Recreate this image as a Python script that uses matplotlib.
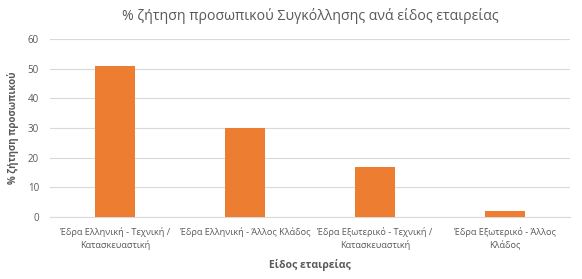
import numpy as np
import matplotlib.pyplot as plt

plt.rcParams['font.family'] = ['Open Sans', 'Noto Sans', 'DejaVu Sans']

# δεδομένα
categories = ["Έδρα Ελληνική - Τεχνική /\nΚατασκευαστική",
              "Έδρα Ελληνική - Άλλος Κλάδος",
              "Έδρα Εξωτερικό - Τεχνική /\nΚατασκευαστική",
              "Έδρα Εξωτερικό - Άλλος\nΚλάδος"]
values = [51, 30, 17, 2]
yticks = [0, 10, 20, 30, 40, 50, 60]

text_col = "#595959"

fig = plt.figure(figsize=(5.82, 2.79), dpi=100)
ax = fig.add_axes([0.086, 0.222, 0.893, 0.638])

x = np.arange(len(categories))
ax.bar(x, values, width=0.31, color="#ED7D31", zorder=3)

ax.set_xlim(-0.5, len(categories) - 0.5)
ax.set_ylim(0, 60)
ax.set_yticks(yticks)
ax.set_xticks(x)
ax.set_xticklabels(categories, fontsize=6.6, color=text_col, linespacing=1.5)
ax.tick_params(axis="y", labelsize=7, colors=text_col, length=0, pad=8)
ax.tick_params(axis="x", length=0, pad=7)

ax.grid(axis="y", color="#D9D9D9", linewidth=0.8, zorder=0)
for s in ["top", "right", "left"]:
    ax.spines[s].set_visible(False)
ax.spines["bottom"].set_color("#D9D9D9")

ax.set_title("% ζήτηση προσωπικού Συγκόλλησης ανά είδος εταιρείας",
             fontsize=10.2, color=text_col, pad=14)
ax.set_xlabel("Είδος εταιρείας", fontsize=7.5, color=text_col, fontweight="bold", labelpad=6)
ax.set_ylabel("% ζήτηση προσωπικού", fontsize=7, color=text_col, fontweight="bold", labelpad=6)

fig.savefig("out.png", dpi=100)
